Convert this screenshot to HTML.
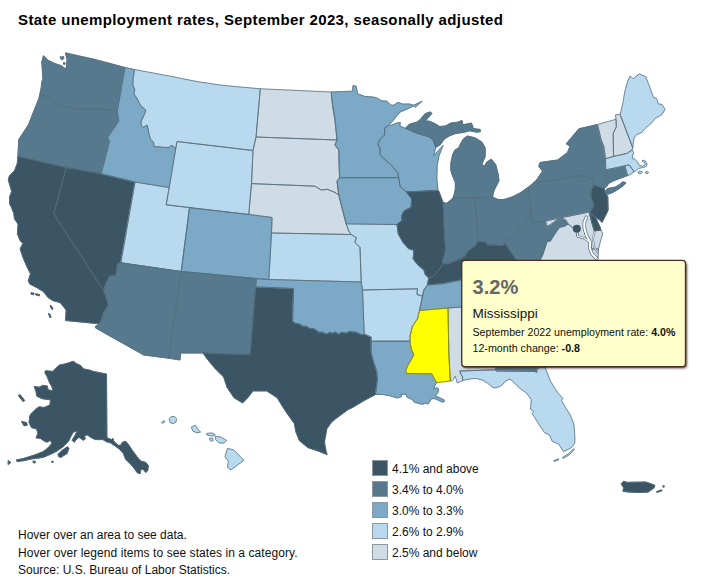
<!DOCTYPE html>
<html><head><meta charset="utf-8"><title>State unemployment rates</title>
<style>
html,body{margin:0;padding:0;background:#fff;}
body{width:712px;height:581px;position:relative;overflow:hidden;font-family:"Liberation Sans",sans-serif;color:#000;}
#title{position:absolute;left:18px;top:11px;font-size:15px;font-weight:bold;white-space:nowrap;letter-spacing:0.385px;line-height:normal;color:#000;}
svg{position:absolute;left:0;top:0;}
.leg{position:absolute;left:372.3px;width:14px;height:14px;border:1px solid #8d979e;}
.lt{position:absolute;left:392px;margin-top:-0.8px;font-size:12px;white-space:nowrap;line-height:16px;color:#111;}
.ft{position:absolute;left:18px;font-size:12px;white-space:nowrap;line-height:16px;color:#111;}
#tip{position:absolute;left:462.3px;top:261px;width:222.5px;height:105.1px;}
#tip div{position:absolute;left:10.2px;white-space:nowrap;}
#t1{top:14.4px;font-size:20.1px;font-weight:bold;color:#666;line-height:24px;}
#t2{top:43.7px;font-size:13.5px;line-height:17px;color:#111;}
#t3{top:64.9px;font-size:10.65px;line-height:13px;color:#111;}
#t4{top:81px;font-size:10.7px;line-height:13px;color:#111;}
</style></head><body>
<div id="title">State unemployment rates, September 2023, seasonally adjusted</div>
<svg width="712" height="581" viewBox="0 0 712 581">
<g stroke="#566d7e" stroke-width="0.75" stroke-linejoin="round">
<path fill="#56798e" stroke="#56798e" stroke-width="0.9" d="M65.4,52.9 95.0,59.5 110.0,63.5 125.0,67.5 117.3,111.0 100.0,109.2 75.0,108.8 56.0,105.0 50.0,99.0 40.0,93.5 41.2,87.7 41.8,82.1 42.9,78.7 42.4,70.8 41.8,61.9 43.5,55.7 48.0,60.2 54.7,63.5 61.5,65.8 66.0,69.2 66.5,65.2 67.1,59.6 65.4,52.9ZM60.5,56.5 62.0,57.3 63.5,56.3 63.8,58.3 62.2,60.0 60.6,58.5ZM63.5,62.5 65.0,62.8 64.8,64.5 63.6,64.3Z"/>
<path fill="#56798e" stroke="#56798e" stroke-width="0.9" d="M40.0,93.5 50.0,99.0 56.0,105.0 75.0,108.8 100.0,109.2 117.3,111.0 118.8,121.2 107.5,137.5 109.5,141.2 101.2,173.8 66.2,167.5 17.9,156.4 18.4,147.0 18.8,139.4 22.9,133.2 28.4,125.0 33.2,112.6 38.8,98.8 40.0,93.5Z"/>
<path fill="#3b5565" stroke="#3b5565" stroke-width="0.9" d="M17.9,156.4 17.2,163.8 14.5,170.7 9.6,175.5 8.3,179.6 9.6,184.4 11.7,191.3 9.6,196.9 9.6,203.7 11.7,207.9 13.8,213.4 14.5,218.9 18.1,224.1 17.4,233.8 20.2,240.7 22.9,243.4 20.2,248.9 22.9,257.2 27.0,266.9 30.5,273.7 28.4,280.6 29.8,284.1 36.7,287.5 43.6,291.7 47.7,297.2 52.5,300.5 60.0,302.5 66.2,310.0 65.5,320.5 99.5,323.8 101.0,321.0 103.2,314.1 108.5,304.5 105.9,296.6 103.8,291.0 53.8,213.8 66.2,167.5 17.9,156.4ZM31.0,292.8 34.0,293.3 33.5,294.8 31.2,294.2ZM35.5,293.8 39.5,294.5 39.3,295.8 36.0,295.0ZM50.0,305.5 51.5,306.0 53.0,309.0 51.8,309.3ZM48.5,313.5 49.8,314.0 51.0,317.5 49.8,317.5Z"/>
<path fill="#3b5565" stroke="#3b5565" stroke-width="0.9" d="M66.2,167.5 101.2,173.8 135.0,182.0 120.8,262.8 117.5,263.8 116.2,275.0 110.0,276.2 106.2,282.5 103.8,291.0 53.8,213.8 66.2,167.5Z"/>
<path fill="#7ba9c6" stroke="#7ba9c6" stroke-width="0.9" d="M125.0,67.5 134.5,69.5 133.1,78.4 132.8,84.9 134.7,89.8 133.9,93.9 137.2,98.8 140.4,105.3 145.8,110.2 143.7,116.0 140.9,121.7 141.3,125.8 143.7,127.4 147.0,125.0 148.1,129.1 149.1,134.8 150.7,139.7 153.5,142.1 154.0,147.0 157.6,146.7 162.5,147.4 169.1,147.4 171.0,145.4 173.2,146.2 175.6,149.0 169.2,187.5 135.0,182.0 101.2,173.8 109.5,141.2 107.5,137.5 118.8,121.2 117.3,111.0 125.0,67.5Z"/>
<path fill="#b9d9ee" stroke="#b9d9ee" stroke-width="0.9" d="M134.5,69.5 170.0,76.2 195.0,81.2 220.0,85.0 240.0,87.0 260.3,88.8 256.0,137.0 253.0,150.5 177.0,141.5 175.6,149.0 173.2,146.2 171.0,145.4 169.1,147.4 162.5,147.4 157.6,146.7 154.0,147.0 153.5,142.1 150.7,139.7 149.1,134.8 148.1,129.1 147.0,125.0 143.7,127.4 141.3,125.8 140.9,121.7 143.7,116.0 145.8,110.2 140.4,105.3 137.2,98.8 133.9,93.9 134.7,89.8 132.8,84.9 133.1,78.4 134.5,69.5Z"/>
<path fill="#b9d9ee" stroke="#b9d9ee" stroke-width="0.9" d="M177.0,141.5 253.0,150.5 251.5,183.6 248.8,214.5 189.5,207.6 166.2,204.8 169.2,187.5 175.6,149.0 177.0,141.5Z"/>
<path fill="#b9d9ee" stroke="#b9d9ee" stroke-width="0.9" d="M135.0,182.0 169.2,187.5 166.2,204.8 189.5,207.6 181.2,271.5 120.8,262.8 135.0,182.0Z"/>
<path fill="#7ba9c6" stroke="#7ba9c6" stroke-width="0.9" d="M189.5,207.6 248.8,214.5 272.0,217.5 271.5,233.0 268.8,279.5 256.4,278.6 181.2,271.5 189.5,207.6Z"/>
<path fill="#56798e" stroke="#56798e" stroke-width="0.9" d="M120.8,262.8 181.2,271.5 168.6,358.2 143.8,355.0 95.6,328.0 95.4,326.3 99.5,323.8 101.0,321.0 103.2,314.1 108.5,304.5 105.9,296.6 103.8,291.0 106.2,282.5 110.0,276.2 116.2,275.0 117.5,263.8 120.8,262.8Z"/>
<path fill="#56798e" stroke="#56798e" stroke-width="0.9" d="M181.2,271.5 256.4,278.6 255.7,286.9 250.2,354.7 203.0,353.0 180.7,353.0 180.0,360.0 168.6,358.2 181.2,271.5Z"/>
<path fill="#3b5565" stroke="#3b5565" stroke-width="0.9" d="M255.7,286.9 293.6,288.5 292.6,321.3 296.0,323.5 299.0,323.6 303.0,326.2 306.9,326.4 310.0,328.6 313.7,328.4 318.6,331.9 322.0,332.0 326.5,334.0 330.0,332.2 332.4,333.2 335.0,331.8 338.3,333.9 342.0,332.2 346.2,333.0 350.0,331.4 356.0,332.2 361.9,334.8 364.2,334.0 371.2,337.0 371.2,341.2 371.2,352.5 373.8,362.5 377.0,372.0 377.5,380.0 375.5,394.5 365.0,400.0 352.5,407.5 347.7,409.8 333.9,420.1 327.0,428.7 324.6,442.5 327.0,454.6 318.4,451.1 308.1,447.7 299.5,440.8 296.0,432.2 294.3,423.6 285.7,411.5 277.1,397.7 266.7,390.9 253.0,390.9 247.8,397.7 242.6,402.9 234.0,397.7 227.1,387.4 223.7,377.1 215.1,368.5 206.5,358.1 203.0,353.0 203.0,353.0 250.2,354.7 255.7,286.9Z"/>
<path fill="#7ba9c6" stroke="#7ba9c6" stroke-width="0.9" d="M256.4,278.6 268.8,279.5 361.2,282.0 362.5,290.0 364.2,334.0 361.9,334.8 356.0,332.2 350.0,331.4 346.2,333.0 342.0,332.2 338.3,333.9 335.0,331.8 332.4,333.2 330.0,332.2 326.5,334.0 322.0,332.0 318.6,331.9 313.7,328.4 310.0,328.6 306.9,326.4 303.0,326.2 299.0,323.6 296.0,323.5 292.6,321.3 293.6,288.5 255.7,286.9 256.4,278.6Z"/>
<path fill="#b9d9ee" stroke="#b9d9ee" stroke-width="0.9" d="M271.5,233.0 351.2,234.5 356.2,237.5 355.0,242.5 360.0,247.5 361.2,282.0 268.8,279.5 271.5,233.0Z"/>
<path fill="#cfdce5" stroke="#cfdce5" stroke-width="0.9" d="M251.5,183.6 315.0,186.2 321.2,190.0 327.5,189.3 335.0,192.5 338.8,195.0 342.5,210.0 346.2,223.8 348.8,231.2 351.2,234.5 271.5,233.0 272.0,217.5 248.8,214.5 251.5,183.6Z"/>
<path fill="#cfdce5" stroke="#cfdce5" stroke-width="0.9" d="M256.0,137.0 337.0,140.0 335.0,145.0 338.8,150.0 339.5,177.7 337.0,181.2 338.8,195.0 335.0,192.5 327.5,189.3 321.2,190.0 315.0,186.2 251.5,183.6 253.0,150.5 256.0,137.0Z"/>
<path fill="#cfdce5" stroke="#cfdce5" stroke-width="0.9" d="M260.3,88.8 298.0,90.5 331.2,92.0 332.5,105.0 335.0,120.0 337.0,140.0 256.0,137.0 260.3,88.8Z"/>
<path fill="#7ba9c6" stroke="#7ba9c6" stroke-width="0.9" d="M331.2,92.0 352.5,91.2 353.0,85.5 356.2,86.2 357.5,93.8 365.0,96.5 372.8,97.0 376.7,97.9 381.2,100.7 386.9,101.2 390.8,105.2 393.5,105.2 398.1,102.4 402.6,104.0 409.3,104.0 413.8,105.2 422.2,101.2 415.5,107.0 413.8,105.9 407.1,109.1 400.3,111.9 395.8,117.0 392.5,121.5 387.4,126.0 384.6,128.2 384.6,134.9 380.1,139.4 377.9,143.9 380.1,148.4 380.0,155.0 391.2,165.0 397.5,172.5 398.8,177.7 339.5,177.7 338.8,150.0 335.0,145.0 337.0,140.0 335.0,120.0 332.5,105.0 331.2,92.0Z"/>
<path fill="#7ba9c6" stroke="#7ba9c6" stroke-width="0.9" d="M339.5,177.7 398.8,177.7 400.0,186.2 406.2,192.0 411.6,198.7 411.2,207.3 404.0,211.0 401.9,215.3 401.9,220.5 397.0,224.5 346.2,223.8 342.5,210.0 338.8,195.0 337.0,181.2 339.5,177.7Z"/>
<path fill="#b9d9ee" stroke="#b9d9ee" stroke-width="0.9" d="M346.2,223.8 397.0,224.5 398.4,234.0 402.9,242.2 408.3,248.5 413.9,250.2 413.2,259.0 418.5,265.6 424.0,270.0 425.3,274.6 428.8,278.0 427.5,285.0 423.8,290.0 422.5,296.2 417.0,294.5 417.5,288.8 362.5,290.0 361.2,282.0 360.0,247.5 355.0,242.5 356.2,237.5 351.2,234.5 348.8,231.2 346.2,223.8Z"/>
<path fill="#b9d9ee" stroke="#b9d9ee" stroke-width="0.9" d="M362.5,290.0 417.5,288.8 417.0,294.5 422.5,296.2 421.2,302.5 419.5,310.5 417.5,318.8 412.5,326.2 410.0,336.2 410.0,341.2 371.2,341.2 371.2,337.0 364.2,334.0 362.5,290.0Z"/>
<path fill="#7ba9c6" stroke="#7ba9c6" stroke-width="0.9" d="M371.2,341.2 410.0,341.2 411.2,348.8 413.8,355.0 407.5,366.2 405.8,370.6 406.4,373.5 431.7,373.7 434.5,379.0 436.6,382.6 434.5,386.1 433.8,389.6 436.6,387.5 438.7,388.9 438.0,392.4 435.2,395.9 439.4,397.6 444.4,400.1 443.7,402.2 440.8,401.5 435.2,398.7 431.0,398.7 429.6,402.2 427.5,404.3 426.1,402.9 422.6,404.3 419.1,403.6 414.2,402.2 412.1,399.4 407.1,397.3 405.7,394.2 400.8,394.5 401.5,396.6 397.3,398.0 390.3,395.9 383.3,394.5 375.5,394.5 377.5,380.0 377.0,372.0 373.8,362.5 371.2,352.5 371.2,341.2Z"/>
<path fill="#7ba9c6" stroke="#7ba9c6" stroke-width="0.9" d="M387.4,126.0 392.5,124.8 398.1,122.6 400.3,122.6 399.8,126.0 403.7,127.6 405.4,128.2 417.2,133.3 428.4,136.6 432.9,139.4 435.8,147.3 433.6,155.8 443.1,145.4 441.0,150.5 438.8,156.6 437.2,165.0 436.8,179.0 438.0,190.5 406.2,192.0 400.0,186.2 398.8,177.7 397.5,172.5 391.2,165.0 380.0,155.0 380.1,148.4 377.9,143.9 380.1,139.4 384.6,134.9 384.6,128.2 387.4,126.0Z"/>
<path fill="#3b5565" stroke="#3b5565" stroke-width="0.9" d="M406.2,192.0 438.0,190.5 439.0,191.5 441.3,198.1 443.2,202.5 444.8,238.8 446.0,248.1 444.8,254.3 442.5,261.2 443.0,263.8 438.8,270.0 433.8,276.2 428.8,278.0 425.3,274.6 424.0,270.0 418.5,265.6 413.2,259.0 413.9,250.2 408.3,248.5 402.9,242.2 398.4,234.0 397.0,224.5 401.9,220.5 401.9,215.3 404.0,211.0 411.2,207.3 411.6,198.7 406.2,192.0Z"/>
<path fill="#56798e" stroke="#56798e" stroke-width="0.9" d="M443.2,202.5 446.3,203.3 449.5,201.0 452.8,198.3 475.0,198.0 478.0,241.0 475.0,246.2 467.5,251.2 465.0,256.2 455.0,261.2 447.5,263.8 443.0,263.8 442.5,261.2 444.8,254.3 446.0,248.1 444.8,238.8 443.2,202.5Z"/>
<path fill="#56798e" stroke="#56798e" stroke-width="0.9" d="M475.0,198.0 492.5,197.0 498.0,199.5 504.0,199.5 512.0,197.0 520.0,193.0 528.5,187.0 530.5,210.0 529.5,215.0 527.5,221.5 520.0,226.2 515.0,233.8 507.5,239.0 505.5,243.3 502.4,245.6 487.0,244.8 485.4,241.8 480.0,241.8 478.0,241.0 475.0,198.0Z"/>
<path fill="#56798e" stroke="#56798e" stroke-width="0.9" d="M405.4,128.2 409.3,124.3 417.2,122.0 420.6,119.2 425.1,113.6 430.7,111.9 431.8,113.6 427.3,118.7 425.1,122.0 428.4,120.9 434.0,123.1 439.7,126.5 445.3,126.0 450.8,123.1 457.7,122.2 462.0,120.5 462.9,124.8 471.5,123.1 473.2,128.2 476.6,129.1 480.1,129.4 480.4,131.7 476.6,132.2 469.7,130.8 462.9,132.5 456.0,133.4 449.1,136.0 443.9,139.4 440.5,144.6 435.8,147.3 432.9,139.4 428.4,136.6 417.2,133.3 405.4,128.2ZM467.2,136.0 474.9,137.7 481.8,142.0 485.2,148.0 485.2,156.6 481.8,164.4 484.4,166.1 487.0,161.8 491.3,159.2 495.6,164.4 498.1,173.8 499.0,180.7 496.4,185.9 493.8,191.0 492.5,197.0 475.0,198.0 452.8,198.3 454.3,194.0 455.3,189.1 455.3,182.4 452.0,174.5 450.8,170.0 450.8,163.5 452.5,154.9 455.1,149.7 458.0,148.5 459.4,146.3 461.5,142.0 463.7,138.6Z"/>
<path fill="#3b5565" stroke="#3b5565" stroke-width="0.9" d="M428.8,278.0 433.8,276.2 438.8,270.0 443.0,263.8 447.5,263.8 455.0,261.2 465.0,256.2 467.5,251.2 475.0,246.2 478.0,241.0 480.0,241.8 485.4,241.8 487.0,244.8 502.4,245.6 505.5,243.3 507.8,247.2 516.3,259.5 518.0,264.0 497.0,281.0 461.2,280.0 442.5,283.8 427.5,285.0 428.8,278.0Z"/>
<path fill="#7ba9c6" stroke="#7ba9c6" stroke-width="0.9" d="M427.5,285.0 442.5,283.8 461.2,280.0 497.0,281.0 540.0,280.0 525.0,290.0 510.0,303.0 487.0,305.0 448.0,308.0 419.5,310.5 421.2,302.5 422.5,296.2 423.8,290.0 427.5,285.0Z"/>
<path fill="#cfdce5" stroke="#cfdce5" stroke-width="0.9" d="M448.0,308.0 487.0,305.0 493.0,350.0 495.8,369.8 459.7,371.0 461.1,374.6 462.6,377.0 462.6,380.5 459.7,382.0 457.2,382.9 456.5,380.0 455.2,376.1 453.3,379.5 451.8,381.0 450.3,381.0 448.8,352.5Z"/>
<path fill="#56798e" stroke="#56798e" stroke-width="0.9" d="M487.0,305.0 510.0,303.0 516.0,308.0 545.0,348.0 544.0,360.0 545.0,367.0 537.5,368.0 536.5,372.6 535.0,371.5 496.2,371.0 495.8,369.8 493.0,350.0 487.0,305.0Z"/>
<path fill="#b9d9ee" stroke="#b9d9ee" stroke-width="0.9" d="M462.6,380.5 462.6,377.0 461.1,374.6 459.7,371.0 495.8,369.8 496.2,371.0 535.0,371.5 536.5,372.6 537.5,368.0 545.0,367.0 550.3,380.8 557.8,393.1 562.6,397.8 561.6,400.7 565.4,407.3 570.1,414.8 573.9,424.3 574.8,435.7 574.8,443.2 571.1,447.9 563.5,451.7 558.8,444.2 552.2,441.3 549.3,434.7 544.6,432.8 538.9,424.3 534.2,416.7 532.0,413.5 533.8,411.5 530.4,409.2 531.3,399.7 526.6,393.1 520.0,388.4 512.5,381.2 510.0,379.0 504.9,381.5 502.9,384.4 499.0,386.9 494.1,387.9 492.1,386.9 487.2,382.9 482.3,380.0 476.4,378.5 469.5,379.0ZM553.8,460.5 558.8,458.8 558.5,460.0 554.0,461.5ZM562.5,457.5 568.0,454.0 573.8,448.8 574.2,450.0 569.0,455.0 563.0,458.5Z"/>
<path fill="#cfdce5" stroke="#cfdce5" stroke-width="0.9" d="M516.0,308.0 530.0,300.0 545.0,302.0 565.0,318.0 545.0,348.0Z"/>
<path fill="#56798e" stroke="#56798e" stroke-width="0.9" d="M510.0,303.0 525.0,290.0 540.0,280.0 595.0,275.0 603.0,285.0 598.0,298.0 580.0,310.0 565.0,318.0 545.0,302.0 530.0,300.0 516.0,308.0Z"/>
<path fill="#cfdce5" stroke="#cfdce5" stroke-width="0.9" d="M518.0,264.0 525.0,272.0 535.0,268.0 540.3,259.5 542.6,254.9 547.2,241.0 550.3,241.0 554.2,234.8 559.6,227.1 564.2,226.3 568.1,224.0 572.0,227.0 577.0,232.0 577.4,236.5 584.2,238.1 589.5,242.0 592.0,249.0 598.5,249.0 598.0,259.0 596.5,262.5 595.0,275.0 540.0,280.0 497.0,281.0 518.0,264.0Z"/>
<path fill="#56798e" stroke="#56798e" stroke-width="0.9" d="M530.5,210.0 532.0,223.7 545.7,220.9 546.5,226.3 550.3,224.8 556.5,220.1 561.1,217.8 565.8,220.1 568.1,224.0 564.2,226.3 559.6,227.1 554.2,234.8 550.3,241.0 547.2,241.0 542.6,254.9 540.3,259.5 535.0,268.0 525.0,272.0 518.0,264.0 516.3,259.5 507.8,247.2 505.5,243.3 507.5,239.0 515.0,233.8 520.0,226.2 527.5,221.5 529.5,215.0 530.5,210.0Z"/>
<path fill="#56798e" stroke="#56798e" stroke-width="0.9" d="M528.5,187.0 536.2,180.5 538.5,182.5 582.5,175.5 592.5,178.8 594.0,185.0 591.2,190.0 590.9,196.9 594.3,205.3 590.0,212.5 589.2,212.0 545.7,220.9 532.0,223.7 530.5,210.0 528.5,187.0Z"/>
<path fill="#cfdce5" stroke="#cfdce5" stroke-width="0.9" d="M545.7,220.9 589.2,212.0 591.7,222.1 594.3,230.9 601.0,230.1 602.7,233.9 600.5,241.0 598.5,249.0 592.0,249.0 589.5,242.0 584.2,238.1 577.4,236.5 577.0,232.0 572.0,227.0 568.1,224.0 565.8,220.1 561.1,217.8 556.5,220.1 550.3,224.8 546.5,226.3 545.7,220.9Z"/>
<path fill="#3b5565" stroke="#3b5565" stroke-width="0.9" d="M589.2,212.0 591.0,213.4 594.0,216.3 596.3,218.6 597.6,222.0 599.7,226.3 601.0,230.1 594.3,230.9 591.7,222.1Z"/>
<path fill="#3b5565" stroke="#3b5565" stroke-width="0.9" d="M594.0,185.0 599.3,186.7 604.4,188.4 605.2,192.6 607.8,196.9 608.1,210.3 605.2,216.2 602.0,222.4 599.5,219.8 597.0,218.0 594.5,216.2 592.0,214.0 590.0,212.5 594.3,205.3 590.9,196.9 591.2,190.0Z"/>
<path fill="#56798e" stroke="#56798e" stroke-width="0.9" d="M597.5,124.5 578.8,128.8 566.2,143.8 570.0,146.2 567.5,152.5 557.5,160.0 540.0,162.5 538.8,166.2 542.5,171.2 536.2,180.5 538.5,182.5 582.5,175.5 592.5,178.8 594.0,185.0 604.4,188.4 607.2,186.0 608.4,183.4 605.8,179.2 605.8,169.9 605.5,158.8 603.8,146.2 601.2,140.0 597.5,124.5ZM605.3,193.2 606.0,190.0 607.9,188.5 611.5,187.8 615.6,187.0 619.5,184.5 622.9,181.8 626.0,182.8 623.5,185.5 620.8,187.5 617.0,190.0 613.6,192.1 609.5,193.8 606.4,194.4Z"/>
<path fill="#56798e" stroke="#56798e" stroke-width="0.9" d="M605.8,169.9 624.9,165.8 627.5,175.6 613.6,180.8 608.4,183.4 605.8,179.2Z"/>
<path fill="#b9d9ee" stroke="#b9d9ee" stroke-width="0.9" d="M624.9,165.8 629.1,164.8 633.7,171.0 633.2,172.5 628.0,175.8 627.5,175.6Z"/>
<path fill="#b9d9ee" stroke="#b9d9ee" stroke-width="0.9" d="M605.5,158.8 613.5,156.4 627.0,153.4 630.6,150.8 632.2,149.8 633.7,152.9 632.7,155.5 632.2,158.6 634.7,159.1 637.3,161.7 639.4,165.3 642.5,166.3 645.4,164.3 644.4,162.3 642.0,160.8 643.0,160.1 645.6,161.2 647.1,164.3 646.1,166.5 642.5,167.6 638.4,168.4 636.3,170.5 634.2,172.0 633.7,171.0 629.1,164.8 624.9,165.8 605.8,169.9ZM637.8,172.0 640.0,171.0 642.5,172.0 641.0,173.6 638.5,173.4ZM645.0,172.5 647.0,171.5 648.7,172.5 647.0,173.6Z"/>
<path fill="#cfdce5" stroke="#cfdce5" stroke-width="0.9" d="M597.5,124.5 616.0,119.3 616.3,127.0 613.2,133.2 613.5,156.4 605.5,158.8 603.8,146.2 601.2,140.0 597.5,124.5Z"/>
<path fill="#cfdce5" stroke="#cfdce5" stroke-width="0.9" d="M616.0,119.3 615.5,114.9 619.4,114.3 620.2,114.6 632.8,148.0 632.2,149.8 630.6,150.8 627.0,153.4 613.5,156.4 613.2,133.2 616.3,127.0 616.0,119.3Z"/>
<path fill="#b9d9ee" stroke="#b9d9ee" stroke-width="0.9" d="M620.2,114.6 623.3,101.4 624.0,96.0 625.6,88.3 627.9,80.5 630.2,75.9 633.3,79.0 636.0,76.0 639.5,74.0 645.7,76.6 649.6,86.7 653.5,97.6 656.6,98.3 658.1,103.8 662.0,104.5 665.1,109.2 662.0,114.6 655.0,118.5 652.0,122.5 649.6,124.7 645.0,128.6 641.9,132.4 636.4,134.8 634.1,137.9 633.3,142.5 632.8,148.0Z"/>
<path fill="#3b5565" stroke="#3b5565" stroke-width="0.9" d="M73.3,361.3 75.8,363.2 80.9,365.7 83.4,368.9 90.0,370.2 93.5,371.5 100.0,372.8 106.5,374.0 106.9,437.8 111.7,439.6 113.0,438.4 113.6,440.9 118.0,445.3 120.6,445.3 122.5,442.2 125.6,441.3 128.1,444.1 131.9,449.8 137.0,456.7 140.8,461.1 145.8,462.4 148.4,465.6 147.7,470.6 145.8,472.5 143.3,469.4 140.8,469.4 140.2,473.8 137.0,472.5 134.5,468.7 130.7,464.3 125.6,459.2 123.1,452.9 119.3,449.1 114.2,445.3 110.4,442.8 106.7,441.8 102.9,439.6 95.3,439.6 90.2,437.1 87.5,435.0 84.5,435.5 85.2,439.0 83.3,440.3 80.9,438.4 78.8,437.3 75.1,440.8 74.6,442.2 72.1,440.3 75.8,434.0 77.1,430.9 73.3,432.1 70.8,436.5 68.3,441.6 63.2,446.7 56.9,451.1 50.6,454.2 43.0,457.4 31.6,458.9 24.0,460.6 17.1,461.6 16.4,459.9 22.8,458.7 29.1,456.8 36.7,454.2 43.0,451.7 48.0,447.9 51.8,443.5 50.6,440.3 46.8,442.2 44.2,441.0 40.4,438.4 36.0,437.8 37.9,433.4 36.7,429.0 31.6,427.7 29.1,422.6 29.7,416.3 31.0,413.8 35.4,409.4 39.2,406.8 44.2,407.5 49.9,404.9 50.6,399.9 41.7,398.6 36.7,396.1 36.0,391.0 34.1,386.6 39.2,387.2 43.0,385.3 47.4,386.0 48.0,389.8 53.1,391.0 51.8,386.6 49.3,382.2 47.4,377.1 44.9,372.7 45.5,370.8 53.1,371.4 55.6,368.3 59.4,365.1 65.7,363.8ZM58.1,454.2 61.9,450.5 67.6,446.7 68.9,448.6 67.0,453.6 60.7,457.4 58.5,456.5ZM18.3,395.4 20.2,394.8 24.6,400.5 23.4,401.8 20.2,398.0ZM21.5,421.4 26.5,422.6 27.2,425.2 24.0,425.8ZM8.2,460.6 10.9,462.5 8.2,464.6ZM33.0,461.0 35.5,461.5 35.0,463.0 33.2,462.6ZM51.8,461.2 53.2,461.4 53.0,462.6 51.9,462.4Z"/>
<path fill="#b9d9ee" stroke="#b9d9ee" stroke-width="0.9" d="M161.5,422.5 164.0,420.5 165.0,421.5 162.5,423.5ZM169.2,418.5 171.0,416.7 174.5,416.5 176.5,418.5 176.0,422.0 173.0,423.6 170.0,422.5ZM191.3,427.0 195.5,425.3 198.0,429.5 200.6,432.0 197.2,432.9 193.0,431.2ZM206.5,433.4 212.0,433.0 214.9,434.2 214.5,435.8 209.0,435.6 206.8,434.8ZM209.8,438.0 212.5,438.0 213.3,440.5 211.0,441.3 209.6,440.0ZM215.4,436.2 220.8,437.1 226.7,440.5 224.2,443.0 219.1,443.0 215.7,439.6ZM227.5,448.5 233.4,449.7 239.3,455.6 244.0,460.3 237.6,464.9 230.9,469.9 227.5,467.4 228.4,461.5 225.0,456.5Z"/>
<path fill="#3b5565" stroke="#3b5565" stroke-width="0.9" d="M621.2,483.7 623.7,481.2 627.1,482.4 645.6,482.0 650.7,483.7 654.9,485.4 654.0,487.9 648.1,492.1 640.6,492.5 628.8,492.1 622.9,491.3 623.7,487.9ZM656.6,491.6 661.6,489.8 661.8,490.8 657.0,492.4ZM662.6,486.2 664.2,485.8 664.0,487.4Z"/>
<path fill="#ffff00" stroke="#ffff00" stroke-width="0.9" d="M419.5,310.5 448.0,308.0 448.8,352.5 450.3,381.0 436.6,382.6 434.5,379.0 431.7,373.7 406.4,373.5 405.8,370.6 407.5,366.2 413.8,355.0 411.2,348.8 410.0,341.2 410.0,336.2 412.5,326.2 417.5,318.8 419.5,310.5Z"/>
<path id="WA" fill="none" d="M65.4,52.9 95.0,59.5 110.0,63.5 125.0,67.5 117.3,111.0 100.0,109.2 75.0,108.8 56.0,105.0 50.0,99.0 40.0,93.5 41.2,87.7 41.8,82.1 42.9,78.7 42.4,70.8 41.8,61.9 43.5,55.7 48.0,60.2 54.7,63.5 61.5,65.8 66.0,69.2 66.5,65.2 67.1,59.6 65.4,52.9ZM60.5,56.5 62.0,57.3 63.5,56.3 63.8,58.3 62.2,60.0 60.6,58.5ZM63.5,62.5 65.0,62.8 64.8,64.5 63.6,64.3Z"/>
<path id="OR" fill="none" d="M40.0,93.5 50.0,99.0 56.0,105.0 75.0,108.8 100.0,109.2 117.3,111.0 118.8,121.2 107.5,137.5 109.5,141.2 101.2,173.8 66.2,167.5 17.9,156.4 18.4,147.0 18.8,139.4 22.9,133.2 28.4,125.0 33.2,112.6 38.8,98.8 40.0,93.5Z"/>
<path id="CA" fill="none" d="M17.9,156.4 17.2,163.8 14.5,170.7 9.6,175.5 8.3,179.6 9.6,184.4 11.7,191.3 9.6,196.9 9.6,203.7 11.7,207.9 13.8,213.4 14.5,218.9 18.1,224.1 17.4,233.8 20.2,240.7 22.9,243.4 20.2,248.9 22.9,257.2 27.0,266.9 30.5,273.7 28.4,280.6 29.8,284.1 36.7,287.5 43.6,291.7 47.7,297.2 52.5,300.5 60.0,302.5 66.2,310.0 65.5,320.5 99.5,323.8 101.0,321.0 103.2,314.1 108.5,304.5 105.9,296.6 103.8,291.0 53.8,213.8 66.2,167.5 17.9,156.4ZM31.0,292.8 34.0,293.3 33.5,294.8 31.2,294.2ZM35.5,293.8 39.5,294.5 39.3,295.8 36.0,295.0ZM50.0,305.5 51.5,306.0 53.0,309.0 51.8,309.3ZM48.5,313.5 49.8,314.0 51.0,317.5 49.8,317.5Z"/>
<path id="NV" fill="none" d="M66.2,167.5 101.2,173.8 135.0,182.0 120.8,262.8 117.5,263.8 116.2,275.0 110.0,276.2 106.2,282.5 103.8,291.0 53.8,213.8 66.2,167.5Z"/>
<path id="ID" fill="none" d="M125.0,67.5 134.5,69.5 133.1,78.4 132.8,84.9 134.7,89.8 133.9,93.9 137.2,98.8 140.4,105.3 145.8,110.2 143.7,116.0 140.9,121.7 141.3,125.8 143.7,127.4 147.0,125.0 148.1,129.1 149.1,134.8 150.7,139.7 153.5,142.1 154.0,147.0 157.6,146.7 162.5,147.4 169.1,147.4 171.0,145.4 173.2,146.2 175.6,149.0 169.2,187.5 135.0,182.0 101.2,173.8 109.5,141.2 107.5,137.5 118.8,121.2 117.3,111.0 125.0,67.5Z"/>
<path id="MT" fill="none" d="M134.5,69.5 170.0,76.2 195.0,81.2 220.0,85.0 240.0,87.0 260.3,88.8 256.0,137.0 253.0,150.5 177.0,141.5 175.6,149.0 173.2,146.2 171.0,145.4 169.1,147.4 162.5,147.4 157.6,146.7 154.0,147.0 153.5,142.1 150.7,139.7 149.1,134.8 148.1,129.1 147.0,125.0 143.7,127.4 141.3,125.8 140.9,121.7 143.7,116.0 145.8,110.2 140.4,105.3 137.2,98.8 133.9,93.9 134.7,89.8 132.8,84.9 133.1,78.4 134.5,69.5Z"/>
<path id="WY" fill="none" d="M177.0,141.5 253.0,150.5 251.5,183.6 248.8,214.5 189.5,207.6 166.2,204.8 169.2,187.5 175.6,149.0 177.0,141.5Z"/>
<path id="UT" fill="none" d="M135.0,182.0 169.2,187.5 166.2,204.8 189.5,207.6 181.2,271.5 120.8,262.8 135.0,182.0Z"/>
<path id="CO" fill="none" d="M189.5,207.6 248.8,214.5 272.0,217.5 271.5,233.0 268.8,279.5 256.4,278.6 181.2,271.5 189.5,207.6Z"/>
<path id="AZ" fill="none" d="M120.8,262.8 181.2,271.5 168.6,358.2 143.8,355.0 95.6,328.0 95.4,326.3 99.5,323.8 101.0,321.0 103.2,314.1 108.5,304.5 105.9,296.6 103.8,291.0 106.2,282.5 110.0,276.2 116.2,275.0 117.5,263.8 120.8,262.8Z"/>
<path id="NM" fill="none" d="M181.2,271.5 256.4,278.6 255.7,286.9 250.2,354.7 203.0,353.0 180.7,353.0 180.0,360.0 168.6,358.2 181.2,271.5Z"/>
<path id="TX" fill="none" d="M255.7,286.9 293.6,288.5 292.6,321.3 296.0,323.5 299.0,323.6 303.0,326.2 306.9,326.4 310.0,328.6 313.7,328.4 318.6,331.9 322.0,332.0 326.5,334.0 330.0,332.2 332.4,333.2 335.0,331.8 338.3,333.9 342.0,332.2 346.2,333.0 350.0,331.4 356.0,332.2 361.9,334.8 364.2,334.0 371.2,337.0 371.2,341.2 371.2,352.5 373.8,362.5 377.0,372.0 377.5,380.0 375.5,394.5 365.0,400.0 352.5,407.5 347.7,409.8 333.9,420.1 327.0,428.7 324.6,442.5 327.0,454.6 318.4,451.1 308.1,447.7 299.5,440.8 296.0,432.2 294.3,423.6 285.7,411.5 277.1,397.7 266.7,390.9 253.0,390.9 247.8,397.7 242.6,402.9 234.0,397.7 227.1,387.4 223.7,377.1 215.1,368.5 206.5,358.1 203.0,353.0 203.0,353.0 250.2,354.7 255.7,286.9Z"/>
<path id="OK" fill="none" d="M256.4,278.6 268.8,279.5 361.2,282.0 362.5,290.0 364.2,334.0 361.9,334.8 356.0,332.2 350.0,331.4 346.2,333.0 342.0,332.2 338.3,333.9 335.0,331.8 332.4,333.2 330.0,332.2 326.5,334.0 322.0,332.0 318.6,331.9 313.7,328.4 310.0,328.6 306.9,326.4 303.0,326.2 299.0,323.6 296.0,323.5 292.6,321.3 293.6,288.5 255.7,286.9 256.4,278.6Z"/>
<path id="KS" fill="none" d="M271.5,233.0 351.2,234.5 356.2,237.5 355.0,242.5 360.0,247.5 361.2,282.0 268.8,279.5 271.5,233.0Z"/>
<path id="NE" fill="none" d="M251.5,183.6 315.0,186.2 321.2,190.0 327.5,189.3 335.0,192.5 338.8,195.0 342.5,210.0 346.2,223.8 348.8,231.2 351.2,234.5 271.5,233.0 272.0,217.5 248.8,214.5 251.5,183.6Z"/>
<path id="SD" fill="none" d="M256.0,137.0 337.0,140.0 335.0,145.0 338.8,150.0 339.5,177.7 337.0,181.2 338.8,195.0 335.0,192.5 327.5,189.3 321.2,190.0 315.0,186.2 251.5,183.6 253.0,150.5 256.0,137.0Z"/>
<path id="ND" fill="none" d="M260.3,88.8 298.0,90.5 331.2,92.0 332.5,105.0 335.0,120.0 337.0,140.0 256.0,137.0 260.3,88.8Z"/>
<path id="MN" fill="none" d="M331.2,92.0 352.5,91.2 353.0,85.5 356.2,86.2 357.5,93.8 365.0,96.5 372.8,97.0 376.7,97.9 381.2,100.7 386.9,101.2 390.8,105.2 393.5,105.2 398.1,102.4 402.6,104.0 409.3,104.0 413.8,105.2 422.2,101.2 415.5,107.0 413.8,105.9 407.1,109.1 400.3,111.9 395.8,117.0 392.5,121.5 387.4,126.0 384.6,128.2 384.6,134.9 380.1,139.4 377.9,143.9 380.1,148.4 380.0,155.0 391.2,165.0 397.5,172.5 398.8,177.7 339.5,177.7 338.8,150.0 335.0,145.0 337.0,140.0 335.0,120.0 332.5,105.0 331.2,92.0Z"/>
<path id="IA" fill="none" d="M339.5,177.7 398.8,177.7 400.0,186.2 406.2,192.0 411.6,198.7 411.2,207.3 404.0,211.0 401.9,215.3 401.9,220.5 397.0,224.5 346.2,223.8 342.5,210.0 338.8,195.0 337.0,181.2 339.5,177.7Z"/>
<path id="MO" fill="none" d="M346.2,223.8 397.0,224.5 398.4,234.0 402.9,242.2 408.3,248.5 413.9,250.2 413.2,259.0 418.5,265.6 424.0,270.0 425.3,274.6 428.8,278.0 427.5,285.0 423.8,290.0 422.5,296.2 417.0,294.5 417.5,288.8 362.5,290.0 361.2,282.0 360.0,247.5 355.0,242.5 356.2,237.5 351.2,234.5 348.8,231.2 346.2,223.8Z"/>
<path id="AR" fill="none" d="M362.5,290.0 417.5,288.8 417.0,294.5 422.5,296.2 421.2,302.5 419.5,310.5 417.5,318.8 412.5,326.2 410.0,336.2 410.0,341.2 371.2,341.2 371.2,337.0 364.2,334.0 362.5,290.0Z"/>
<path id="LA" fill="none" d="M371.2,341.2 410.0,341.2 411.2,348.8 413.8,355.0 407.5,366.2 405.8,370.6 406.4,373.5 431.7,373.7 434.5,379.0 436.6,382.6 434.5,386.1 433.8,389.6 436.6,387.5 438.7,388.9 438.0,392.4 435.2,395.9 439.4,397.6 444.4,400.1 443.7,402.2 440.8,401.5 435.2,398.7 431.0,398.7 429.6,402.2 427.5,404.3 426.1,402.9 422.6,404.3 419.1,403.6 414.2,402.2 412.1,399.4 407.1,397.3 405.7,394.2 400.8,394.5 401.5,396.6 397.3,398.0 390.3,395.9 383.3,394.5 375.5,394.5 377.5,380.0 377.0,372.0 373.8,362.5 371.2,352.5 371.2,341.2Z"/>
<path id="WI" fill="none" d="M387.4,126.0 392.5,124.8 398.1,122.6 400.3,122.6 399.8,126.0 403.7,127.6 405.4,128.2 417.2,133.3 428.4,136.6 432.9,139.4 435.8,147.3 433.6,155.8 443.1,145.4 441.0,150.5 438.8,156.6 437.2,165.0 436.8,179.0 438.0,190.5 406.2,192.0 400.0,186.2 398.8,177.7 397.5,172.5 391.2,165.0 380.0,155.0 380.1,148.4 377.9,143.9 380.1,139.4 384.6,134.9 384.6,128.2 387.4,126.0Z"/>
<path id="IL" fill="none" d="M406.2,192.0 438.0,190.5 439.0,191.5 441.3,198.1 443.2,202.5 444.8,238.8 446.0,248.1 444.8,254.3 442.5,261.2 443.0,263.8 438.8,270.0 433.8,276.2 428.8,278.0 425.3,274.6 424.0,270.0 418.5,265.6 413.2,259.0 413.9,250.2 408.3,248.5 402.9,242.2 398.4,234.0 397.0,224.5 401.9,220.5 401.9,215.3 404.0,211.0 411.2,207.3 411.6,198.7 406.2,192.0Z"/>
<path id="IN" fill="none" d="M443.2,202.5 446.3,203.3 449.5,201.0 452.8,198.3 475.0,198.0 478.0,241.0 475.0,246.2 467.5,251.2 465.0,256.2 455.0,261.2 447.5,263.8 443.0,263.8 442.5,261.2 444.8,254.3 446.0,248.1 444.8,238.8 443.2,202.5Z"/>
<path id="OH" fill="none" d="M475.0,198.0 492.5,197.0 498.0,199.5 504.0,199.5 512.0,197.0 520.0,193.0 528.5,187.0 530.5,210.0 529.5,215.0 527.5,221.5 520.0,226.2 515.0,233.8 507.5,239.0 505.5,243.3 502.4,245.6 487.0,244.8 485.4,241.8 480.0,241.8 478.0,241.0 475.0,198.0Z"/>
<path id="MI" fill="none" d="M405.4,128.2 409.3,124.3 417.2,122.0 420.6,119.2 425.1,113.6 430.7,111.9 431.8,113.6 427.3,118.7 425.1,122.0 428.4,120.9 434.0,123.1 439.7,126.5 445.3,126.0 450.8,123.1 457.7,122.2 462.0,120.5 462.9,124.8 471.5,123.1 473.2,128.2 476.6,129.1 480.1,129.4 480.4,131.7 476.6,132.2 469.7,130.8 462.9,132.5 456.0,133.4 449.1,136.0 443.9,139.4 440.5,144.6 435.8,147.3 432.9,139.4 428.4,136.6 417.2,133.3 405.4,128.2ZM467.2,136.0 474.9,137.7 481.8,142.0 485.2,148.0 485.2,156.6 481.8,164.4 484.4,166.1 487.0,161.8 491.3,159.2 495.6,164.4 498.1,173.8 499.0,180.7 496.4,185.9 493.8,191.0 492.5,197.0 475.0,198.0 452.8,198.3 454.3,194.0 455.3,189.1 455.3,182.4 452.0,174.5 450.8,170.0 450.8,163.5 452.5,154.9 455.1,149.7 458.0,148.5 459.4,146.3 461.5,142.0 463.7,138.6Z"/>
<path id="KY" fill="none" d="M428.8,278.0 433.8,276.2 438.8,270.0 443.0,263.8 447.5,263.8 455.0,261.2 465.0,256.2 467.5,251.2 475.0,246.2 478.0,241.0 480.0,241.8 485.4,241.8 487.0,244.8 502.4,245.6 505.5,243.3 507.8,247.2 516.3,259.5 518.0,264.0 497.0,281.0 461.2,280.0 442.5,283.8 427.5,285.0 428.8,278.0Z"/>
<path id="TN" fill="none" d="M427.5,285.0 442.5,283.8 461.2,280.0 497.0,281.0 540.0,280.0 525.0,290.0 510.0,303.0 487.0,305.0 448.0,308.0 419.5,310.5 421.2,302.5 422.5,296.2 423.8,290.0 427.5,285.0Z"/>
<path id="AL" fill="none" d="M448.0,308.0 487.0,305.0 493.0,350.0 495.8,369.8 459.7,371.0 461.1,374.6 462.6,377.0 462.6,380.5 459.7,382.0 457.2,382.9 456.5,380.0 455.2,376.1 453.3,379.5 451.8,381.0 450.3,381.0 448.8,352.5Z"/>
<path id="GA" fill="none" d="M487.0,305.0 510.0,303.0 516.0,308.0 545.0,348.0 544.0,360.0 545.0,367.0 537.5,368.0 536.5,372.6 535.0,371.5 496.2,371.0 495.8,369.8 493.0,350.0 487.0,305.0Z"/>
<path id="FL" fill="none" d="M462.6,380.5 462.6,377.0 461.1,374.6 459.7,371.0 495.8,369.8 496.2,371.0 535.0,371.5 536.5,372.6 537.5,368.0 545.0,367.0 550.3,380.8 557.8,393.1 562.6,397.8 561.6,400.7 565.4,407.3 570.1,414.8 573.9,424.3 574.8,435.7 574.8,443.2 571.1,447.9 563.5,451.7 558.8,444.2 552.2,441.3 549.3,434.7 544.6,432.8 538.9,424.3 534.2,416.7 532.0,413.5 533.8,411.5 530.4,409.2 531.3,399.7 526.6,393.1 520.0,388.4 512.5,381.2 510.0,379.0 504.9,381.5 502.9,384.4 499.0,386.9 494.1,387.9 492.1,386.9 487.2,382.9 482.3,380.0 476.4,378.5 469.5,379.0ZM553.8,460.5 558.8,458.8 558.5,460.0 554.0,461.5ZM562.5,457.5 568.0,454.0 573.8,448.8 574.2,450.0 569.0,455.0 563.0,458.5Z"/>
<path id="SC" fill="none" d="M516.0,308.0 530.0,300.0 545.0,302.0 565.0,318.0 545.0,348.0Z"/>
<path id="NC" fill="none" d="M510.0,303.0 525.0,290.0 540.0,280.0 595.0,275.0 603.0,285.0 598.0,298.0 580.0,310.0 565.0,318.0 545.0,302.0 530.0,300.0 516.0,308.0Z"/>
<path id="VA" fill="none" d="M518.0,264.0 525.0,272.0 535.0,268.0 540.3,259.5 542.6,254.9 547.2,241.0 550.3,241.0 554.2,234.8 559.6,227.1 564.2,226.3 568.1,224.0 572.0,227.0 577.0,232.0 577.4,236.5 584.2,238.1 589.5,242.0 592.0,249.0 598.5,249.0 598.0,259.0 596.5,262.5 595.0,275.0 540.0,280.0 497.0,281.0 518.0,264.0Z"/>
<path id="WV" fill="none" d="M530.5,210.0 532.0,223.7 545.7,220.9 546.5,226.3 550.3,224.8 556.5,220.1 561.1,217.8 565.8,220.1 568.1,224.0 564.2,226.3 559.6,227.1 554.2,234.8 550.3,241.0 547.2,241.0 542.6,254.9 540.3,259.5 535.0,268.0 525.0,272.0 518.0,264.0 516.3,259.5 507.8,247.2 505.5,243.3 507.5,239.0 515.0,233.8 520.0,226.2 527.5,221.5 529.5,215.0 530.5,210.0Z"/>
<path id="PA" fill="none" d="M528.5,187.0 536.2,180.5 538.5,182.5 582.5,175.5 592.5,178.8 594.0,185.0 591.2,190.0 590.9,196.9 594.3,205.3 590.0,212.5 589.2,212.0 545.7,220.9 532.0,223.7 530.5,210.0 528.5,187.0Z"/>
<path id="MD" fill="none" d="M545.7,220.9 589.2,212.0 591.7,222.1 594.3,230.9 601.0,230.1 602.7,233.9 600.5,241.0 598.5,249.0 592.0,249.0 589.5,242.0 584.2,238.1 577.4,236.5 577.0,232.0 572.0,227.0 568.1,224.0 565.8,220.1 561.1,217.8 556.5,220.1 550.3,224.8 546.5,226.3 545.7,220.9Z"/>
<path id="DE" fill="none" d="M589.2,212.0 591.0,213.4 594.0,216.3 596.3,218.6 597.6,222.0 599.7,226.3 601.0,230.1 594.3,230.9 591.7,222.1Z"/>
<path id="NJ" fill="none" d="M594.0,185.0 599.3,186.7 604.4,188.4 605.2,192.6 607.8,196.9 608.1,210.3 605.2,216.2 602.0,222.4 599.5,219.8 597.0,218.0 594.5,216.2 592.0,214.0 590.0,212.5 594.3,205.3 590.9,196.9 591.2,190.0Z"/>
<path id="NY" fill="none" d="M597.5,124.5 578.8,128.8 566.2,143.8 570.0,146.2 567.5,152.5 557.5,160.0 540.0,162.5 538.8,166.2 542.5,171.2 536.2,180.5 538.5,182.5 582.5,175.5 592.5,178.8 594.0,185.0 604.4,188.4 607.2,186.0 608.4,183.4 605.8,179.2 605.8,169.9 605.5,158.8 603.8,146.2 601.2,140.0 597.5,124.5ZM605.3,193.2 606.0,190.0 607.9,188.5 611.5,187.8 615.6,187.0 619.5,184.5 622.9,181.8 626.0,182.8 623.5,185.5 620.8,187.5 617.0,190.0 613.6,192.1 609.5,193.8 606.4,194.4Z"/>
<path id="CT" fill="none" d="M605.8,169.9 624.9,165.8 627.5,175.6 613.6,180.8 608.4,183.4 605.8,179.2Z"/>
<path id="RI" fill="none" d="M624.9,165.8 629.1,164.8 633.7,171.0 633.2,172.5 628.0,175.8 627.5,175.6Z"/>
<path id="MA" fill="none" d="M605.5,158.8 613.5,156.4 627.0,153.4 630.6,150.8 632.2,149.8 633.7,152.9 632.7,155.5 632.2,158.6 634.7,159.1 637.3,161.7 639.4,165.3 642.5,166.3 645.4,164.3 644.4,162.3 642.0,160.8 643.0,160.1 645.6,161.2 647.1,164.3 646.1,166.5 642.5,167.6 638.4,168.4 636.3,170.5 634.2,172.0 633.7,171.0 629.1,164.8 624.9,165.8 605.8,169.9ZM637.8,172.0 640.0,171.0 642.5,172.0 641.0,173.6 638.5,173.4ZM645.0,172.5 647.0,171.5 648.7,172.5 647.0,173.6Z"/>
<path id="VT" fill="none" d="M597.5,124.5 616.0,119.3 616.3,127.0 613.2,133.2 613.5,156.4 605.5,158.8 603.8,146.2 601.2,140.0 597.5,124.5Z"/>
<path id="NH" fill="none" d="M616.0,119.3 615.5,114.9 619.4,114.3 620.2,114.6 632.8,148.0 632.2,149.8 630.6,150.8 627.0,153.4 613.5,156.4 613.2,133.2 616.3,127.0 616.0,119.3Z"/>
<path id="ME" fill="none" d="M620.2,114.6 623.3,101.4 624.0,96.0 625.6,88.3 627.9,80.5 630.2,75.9 633.3,79.0 636.0,76.0 639.5,74.0 645.7,76.6 649.6,86.7 653.5,97.6 656.6,98.3 658.1,103.8 662.0,104.5 665.1,109.2 662.0,114.6 655.0,118.5 652.0,122.5 649.6,124.7 645.0,128.6 641.9,132.4 636.4,134.8 634.1,137.9 633.3,142.5 632.8,148.0Z"/>
<path id="AK" fill="none" d="M73.3,361.3 75.8,363.2 80.9,365.7 83.4,368.9 90.0,370.2 93.5,371.5 100.0,372.8 106.5,374.0 106.9,437.8 111.7,439.6 113.0,438.4 113.6,440.9 118.0,445.3 120.6,445.3 122.5,442.2 125.6,441.3 128.1,444.1 131.9,449.8 137.0,456.7 140.8,461.1 145.8,462.4 148.4,465.6 147.7,470.6 145.8,472.5 143.3,469.4 140.8,469.4 140.2,473.8 137.0,472.5 134.5,468.7 130.7,464.3 125.6,459.2 123.1,452.9 119.3,449.1 114.2,445.3 110.4,442.8 106.7,441.8 102.9,439.6 95.3,439.6 90.2,437.1 87.5,435.0 84.5,435.5 85.2,439.0 83.3,440.3 80.9,438.4 78.8,437.3 75.1,440.8 74.6,442.2 72.1,440.3 75.8,434.0 77.1,430.9 73.3,432.1 70.8,436.5 68.3,441.6 63.2,446.7 56.9,451.1 50.6,454.2 43.0,457.4 31.6,458.9 24.0,460.6 17.1,461.6 16.4,459.9 22.8,458.7 29.1,456.8 36.7,454.2 43.0,451.7 48.0,447.9 51.8,443.5 50.6,440.3 46.8,442.2 44.2,441.0 40.4,438.4 36.0,437.8 37.9,433.4 36.7,429.0 31.6,427.7 29.1,422.6 29.7,416.3 31.0,413.8 35.4,409.4 39.2,406.8 44.2,407.5 49.9,404.9 50.6,399.9 41.7,398.6 36.7,396.1 36.0,391.0 34.1,386.6 39.2,387.2 43.0,385.3 47.4,386.0 48.0,389.8 53.1,391.0 51.8,386.6 49.3,382.2 47.4,377.1 44.9,372.7 45.5,370.8 53.1,371.4 55.6,368.3 59.4,365.1 65.7,363.8ZM58.1,454.2 61.9,450.5 67.6,446.7 68.9,448.6 67.0,453.6 60.7,457.4 58.5,456.5ZM18.3,395.4 20.2,394.8 24.6,400.5 23.4,401.8 20.2,398.0ZM21.5,421.4 26.5,422.6 27.2,425.2 24.0,425.8ZM8.2,460.6 10.9,462.5 8.2,464.6ZM33.0,461.0 35.5,461.5 35.0,463.0 33.2,462.6ZM51.8,461.2 53.2,461.4 53.0,462.6 51.9,462.4Z"/>
<path id="HI" fill="none" d="M161.5,422.5 164.0,420.5 165.0,421.5 162.5,423.5ZM169.2,418.5 171.0,416.7 174.5,416.5 176.5,418.5 176.0,422.0 173.0,423.6 170.0,422.5ZM191.3,427.0 195.5,425.3 198.0,429.5 200.6,432.0 197.2,432.9 193.0,431.2ZM206.5,433.4 212.0,433.0 214.9,434.2 214.5,435.8 209.0,435.6 206.8,434.8ZM209.8,438.0 212.5,438.0 213.3,440.5 211.0,441.3 209.6,440.0ZM215.4,436.2 220.8,437.1 226.7,440.5 224.2,443.0 219.1,443.0 215.7,439.6ZM227.5,448.5 233.4,449.7 239.3,455.6 244.0,460.3 237.6,464.9 230.9,469.9 227.5,467.4 228.4,461.5 225.0,456.5Z"/>
<path id="PR" fill="none" d="M621.2,483.7 623.7,481.2 627.1,482.4 645.6,482.0 650.7,483.7 654.9,485.4 654.0,487.9 648.1,492.1 640.6,492.5 628.8,492.1 622.9,491.3 623.7,487.9ZM656.6,491.6 661.6,489.8 661.8,490.8 657.0,492.4ZM662.6,486.2 664.2,485.8 664.0,487.4Z"/>
<path id="MS" fill="none" stroke="#8a8a2a" stroke-width="1" d="M419.5,310.5 448.0,308.0 448.8,352.5 450.3,381.0 436.6,382.6 434.5,379.0 431.7,373.7 406.4,373.5 405.8,370.6 407.5,366.2 413.8,355.0 411.2,348.8 410.0,341.2 410.0,336.2 412.5,326.2 417.5,318.8 419.5,310.5Z"/>
</g>
<path d="M586.3,217.3 L584.3,222.4 L584.3,228 L586.3,234.7 L588,238.1 L590.2,242.5 L589.9,248.1 L591.9,253.7 L596.6,258.5" fill="none" stroke="#566d7e" stroke-width="3.5" stroke-linejoin="round" stroke-linecap="round"/><path d="M577.3,232.5 L577.6,236.3 L584.2,238.3 L589.8,242" fill="none" stroke="#566d7e" stroke-width="2.4" stroke-linejoin="round" stroke-linecap="round"/><path d="M586.3,217.3 L584.3,222.4 L584.3,228 L586.3,234.7 L588,238.1 L590.2,242.5 L589.9,248.1 L591.9,253.7 L596.6,258.5" fill="none" stroke="#fff" stroke-width="2.1" stroke-linejoin="round" stroke-linecap="round"/><path d="M577.3,232.5 L577.6,236.3 L584.2,238.3 L589.8,242" fill="none" stroke="#fff" stroke-width="1.1" stroke-linejoin="round" stroke-linecap="round"/><path d="M594.5,232 L592.8,239 L594.3,247.5 L597.5,252.5" fill="none" stroke="#566d7e" stroke-width="1.9" stroke-linejoin="round" stroke-linecap="round"/><path d="M594.5,232 L592.8,239 L594.3,247.5 L597.5,252.5" fill="none" stroke="#fff" stroke-width="0.9" stroke-linejoin="round" stroke-linecap="round"/>
<path d="M332.6,421.6 L327.9,429 L325.5,441.6 L327.2,452.3" fill="none" stroke="#fff" stroke-width="0.7"/>
<circle cx="576.8" cy="228.7" r="4" fill="#3b5565"/>
<defs><filter id="sh" x="-10%" y="-10%" width="120%" height="130%"><feGaussianBlur stdDeviation="1.1"/></filter></defs>
<rect x="463.2" y="261.9" width="223.8" height="106.3" rx="3.5" fill="#3c1e14" opacity="0.8" filter="url(#sh)"/>
<rect x="461.7" y="260.4" width="223.8" height="106.3" rx="3.2" fill="#ffffcc" stroke="#4a2f22" stroke-width="1.35"/>
</svg>
<div class="leg" style="top:460.3px;background:#3b5565"></div><div class="lt" style="top:461.5px">4.1% and above</div>
<div class="leg" style="top:481.4px;background:#56798e"></div><div class="lt" style="top:482.6px">3.4% to 4.0%</div>
<div class="leg" style="top:502.2px;background:#7ba9c6"></div><div class="lt" style="top:503.7px">3.0% to 3.3%</div>
<div class="leg" style="top:523.2px;background:#b9d9ee"></div><div class="lt" style="top:524.8px">2.6% to 2.9%</div>
<div class="leg" style="top:544.3px;background:#cfdce5"></div><div class="lt" style="top:545.9px">2.5% and below</div>
<div class="ft" style="top:526.6px">Hover over an area to see data.</div>
<div class="ft" style="top:544.7px;letter-spacing:0.07px">Hover over legend items to see states in a category.</div>
<div class="ft" style="top:562.4px">Source: U.S. Bureau of Labor Statistics.</div>
<div id="tip"><div id="t1">3.2%</div><div id="t2">Mississippi</div><div id="t3">September 2022 unemployment rate: <b>4.0%</b></div><div id="t4">12-month change: <b>-0.8</b></div></div>
</body></html>
